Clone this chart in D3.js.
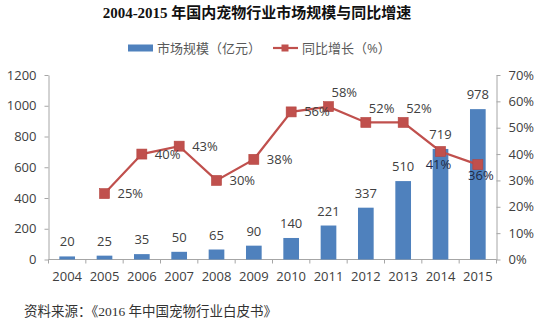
<!DOCTYPE html>
<html><head><meta charset="utf-8">
<script src="https://cdn.jsdelivr.net/npm/d3@7"></script>
<style>
html,body{margin:0;padding:0;background:#fff;}
svg{display:block;}
</style></head>
<body>
<script>
const years = ["2004","2005","2006","2007","2008","2009","2010","2011","2012","2013","2014","2015"];
const marketSize = [20,25,35,50,65,90,140,221,337,510,719,978];
const growthRate = [null,25,40,43,30,38,56,58,52,52,41,36];
const leftTicks = [0,200,400,600,800,1000,1200];
const rightTicks = [0,10,20,30,40,50,60,70];
const title = "2004-2015 年国内宠物行业市场规模与同比增速";
const legendLabels = ["市场规模（亿元）","同比增长（%）"];
const source = "资料来源：《2016 年中国宠物行业白皮书》";

const W = 555, H = 331;
const m = {left:48.5, right:496.5, top:75, bottom:259.5};
const svg = d3.select("body").append("svg").attr("width",W).attr("height",H);
const font = "'Open Sans', 'Noto Sans CJK SC', sans-serif";
const textColor = "#404040";
const barColor = "#4f81bd";
const lineColor = "#c0504d";
const axisColor = "#a6a6a6";

const x = d3.scaleBand().domain(years).range([m.left, m.right]).paddingInner(0.58).paddingOuter(0.29);
const xCenter = d => x(d) + x.bandwidth()/2;
const yL = d3.scaleLinear().domain([0,1200]).range([m.bottom, m.top]);
const yR = d3.scaleLinear().domain([0,70]).range([m.bottom, m.top]);

// Title
svg.append("text").attr("x",257).attr("y",18).attr("text-anchor","middle")
  .attr("font-family","'Liberation Serif','Noto Sans CJK SC',serif").attr("font-weight","bold")
  .attr("font-size",15).attr("fill","#111").text(title);

// Legend
const lg = svg.append("g");
lg.append("rect").attr("x",128).attr("y",44.5).attr("width",25).attr("height",7).attr("fill",barColor);
lg.append("text").attr("x",157).attr("y",52.5).attr("font-family",font).attr("font-size",13).attr("fill","#595959").text(legendLabels[0]);
lg.append("line").attr("x1",273).attr("x2",298).attr("y1",48).attr("y2",48).attr("stroke",lineColor).attr("stroke-width",2.2);
lg.append("rect").attr("x",281.5).attr("y",44.5).attr("width",7).attr("height",7).attr("fill",lineColor);
lg.append("text").attr("x",302).attr("y",52.5).attr("font-family",font).attr("font-size",13).attr("fill","#595959").text(legendLabels[1]);

// Axes
const styleAxis = g => {
  g.selectAll(".domain").attr("stroke",axisColor);
  g.selectAll(".tick line").attr("stroke",axisColor);
  g.selectAll(".tick text").attr("fill",textColor).attr("font-family",font).attr("font-size",13);
};
svg.append("g").attr("transform",`translate(${m.left},0)`)
  .call(d3.axisLeft(yL).tickValues(leftTicks).tickFormat(d3.format("d")).tickSize(4).tickSizeOuter(0).tickPadding(8))
  .call(styleAxis);
svg.append("g").attr("transform",`translate(${m.right},0)`)
  .call(d3.axisRight(yR).tickValues(rightTicks).tickFormat(d=>d+"%").tickSize(4).tickSizeOuter(0).tickPadding(8))
  .call(styleAxis);
// bottom axis: line + tick marks at category boundaries
const gx = svg.append("g").attr("transform",`translate(0,${m.bottom})`)
  .call(d3.axisBottom(x).tickSize(0).tickPadding(12)).call(styleAxis);
const boundaries = d3.range(years.length+1).map(i => m.left + i*(m.right-m.left)/years.length);
gx.selectAll(".bound").data(boundaries).join("line").attr("class","bound")
  .attr("x1",d=>d).attr("x2",d=>d).attr("y1",0).attr("y2",4).attr("stroke",axisColor);
gx.select(".domain").attr("d",`M${m.left},0H${m.right}`);

// Bars
svg.append("g").selectAll("rect").data(years).join("rect")
  .attr("x",d=>x(d)).attr("width",x.bandwidth())
  .attr("y",(d,i)=>yL(marketSize[i])).attr("height",(d,i)=>yL(0)-yL(marketSize[i]))
  .attr("fill",barColor);
svg.append("g").selectAll("text").data(years).join("text")
  .attr("x",d=>xCenter(d)).attr("y",(d,i)=>yL(marketSize[i])-10)
  .attr("text-anchor","middle").attr("font-family",font).attr("font-size",13).attr("fill",textColor)
  .text((d,i)=>marketSize[i]);

// Line
const pts = years.map((d,i)=>({year:d,v:growthRate[i]})).filter(p=>p.v!==null);
svg.append("path").datum(pts)
  .attr("d",d3.line().x(p=>xCenter(p.year)).y(p=>yR(p.v)))
  .attr("fill","none").attr("stroke",lineColor).attr("stroke-width",2.2);
svg.append("g").selectAll("rect").data(pts).join("rect")
  .attr("x",p=>xCenter(p.year)-5).attr("y",p=>yR(p.v)-5).attr("width",10).attr("height",10)
  .attr("fill",lineColor).attr("stroke","#b5443f").attr("stroke-width",0.6);

// Line labels: placement similar to the original
const place = p => {
  if (["2011","2012","2013"].includes(p.year)) return {dx:3, dy:-13, anchor:"start"};
  if (p.year==="2014") return {dx:-2, dy:14, anchor:"middle"};
  if (p.year==="2015") return {dx:3, dy:12, anchor:"middle"};
  return {dx:13, dy:1, anchor:"start"};
};
svg.append("g").selectAll("text").data(pts).join("text")
  .attr("x",p=>xCenter(p.year)+place(p).dx).attr("y",p=>yR(p.v)+place(p).dy)
  .attr("dominant-baseline","middle").attr("text-anchor",p=>place(p).anchor)
  .attr("font-family",font).attr("font-size",13)
  .attr("fill",p=>(p.year==="2014"||p.year==="2015")?"#1f2a44":textColor)
  .text(p=>p.v+"%");

// Source
svg.append("text").attr("x",24).attr("y",316).attr("font-family","'Liberation Serif','Noto Sans CJK SC',serif")
  .attr("font-size",13.5).attr("fill","#333").text(source);
</script>
</body></html>
